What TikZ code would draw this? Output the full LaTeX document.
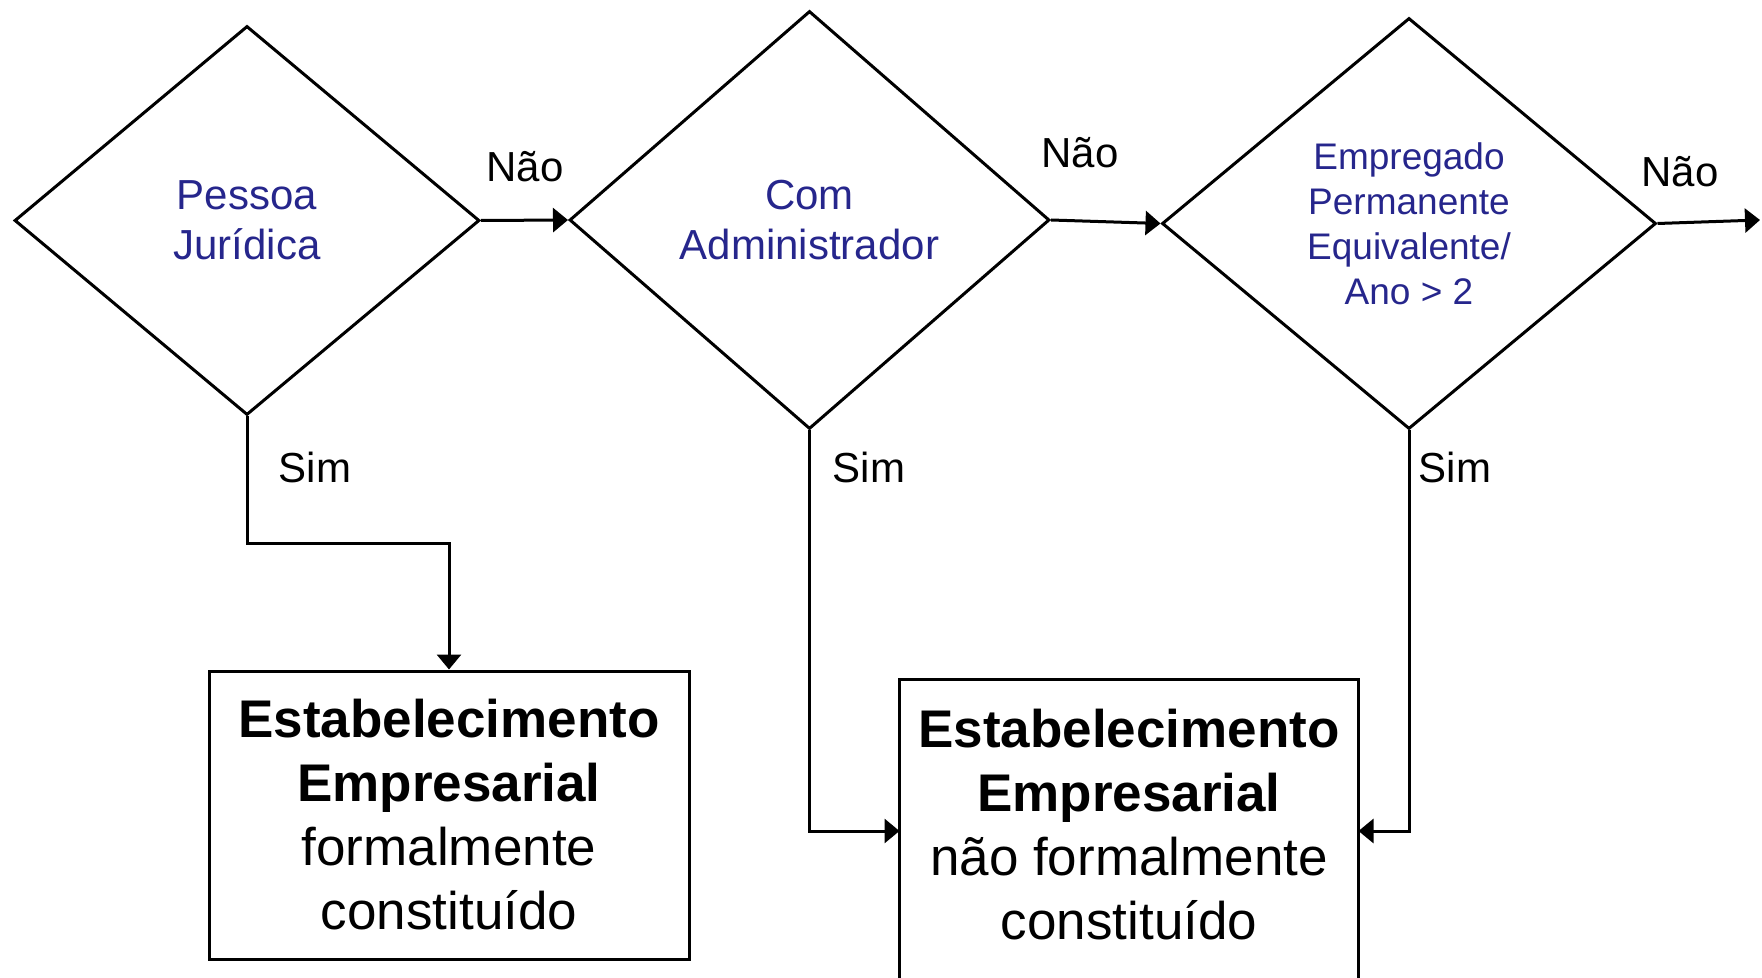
\documentclass[tikz,border=0pt]{standalone}
\usepackage{fontspec}
\setmainfont{Liberation Sans}
\usetikzlibrary{calc}
\usetikzlibrary{shapes.geometric}
\usetikzlibrary{arrows.meta}
\definecolor{qblue}{RGB}{38,38,140}

\begin{document}
\begin{tikzpicture}[x=0.5pt, y=-0.5pt, line width=1.5pt,
  every node/.style={font=\fontsize{21}{25}\selectfont},
  decision/.style={diamond, draw, inner sep=0pt, align=center, text=qblue},
  result/.style={rectangle, inner sep=0pt, align=center, minimum height=144pt, font=\fontsize{26.5}{32}\selectfont},
  arr/.style={-{Triangle[length=7.5pt,width=12pt]}}]
\useasboundingbox (0,0) rectangle (1762,978);
% decisions
\node[decision, minimum width=232.5pt, minimum height=194.5pt] (pj) at (247,220.5) {Pessoa\\Jurídica};
\node[decision, minimum width=240pt, minimum height=209pt] (adm) at (809.5,220) {Com\\Administrador};
\node[decision, minimum width=247pt, minimum height=205.5pt, font=\fontsize{18.5}{22.5}\selectfont] (emp) at (1409,223.5) {Empregado\\Permanente\\Equivalente/\\Ano > 2};
\coordinate (out) at (1760,220);
% results
\node[result, draw, minimum width=240pt] (formal) at (449,815) {\textbf{Estabelecimento}\\\textbf{Empresarial}\\formalmente\\constituído};
\node[result, minimum width=228pt] (informal) at (1129,825) {\textbf{Estabelecimento}\\\textbf{Empresarial}\\não formalmente\\constituído};
\draw ($(informal.south west)+(0,60)$) -- (informal.north west) -- (informal.north east) -- ($(informal.south east)+(0,60)$);
% connectors
\draw[arr] (pj.east) -- (adm.west);
\draw[arr] (adm.east) -- (emp.west);
\draw[arr] (emp.east) -- (out);
\draw[arr] (pj.south) |- ($(pj.south)!0.5!(formal.north)$) -| (formal.north);
\draw[arr] (adm.south) |- ([yshift=-3pt]informal.west);
\draw[arr] (emp.south) |- ([yshift=-3pt]informal.east);
% labels
\node (nao1) at (525,167) {Não};
\node (nao2) at (1080,153) {Não};
\node (nao3) at (1680,172) {Não};
\node (sim1) at (315,467) {Sim};
\node (sim2) at (869,467) {Sim};
\node (sim3) at (1455,467) {Sim};
\end{tikzpicture}
\end{document}
